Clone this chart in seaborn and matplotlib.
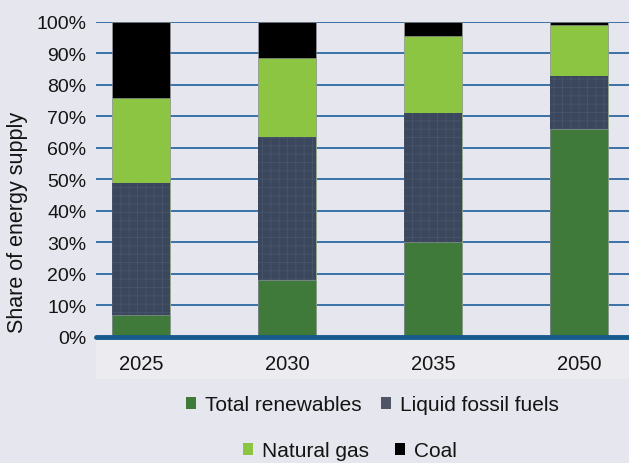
import matplotlib
matplotlib.use("Agg")
import matplotlib.pyplot as plt
from matplotlib.patches import Patch, Rectangle
import numpy as np
import pandas as pd
import seaborn as sns

years = ["2025", "2030", "2035", "2050"]
renewables = [7, 18, 30, 66]
liquid_fossil = [42, 45.5, 41, 17]
natural_gas = [27, 25, 24.5, 16]
coal = [24, 11.5, 4.5, 1]
y_ticks = [0, 10, 20, 30, 40, 50, 60, 70, 80, 90, 100]
y_tick_labels = [f"{v}%" for v in y_ticks]

series_names = ["Total renewables", "Liquid fossil fuels", "Natural gas", "Coal"]
series_colors = ["#3f7a3a", "#3a475c", "#8cc541", "#000000"]

sns.set_theme(style="white")
plt.rcParams["font.family"] = ["Liberation Sans", "DejaVu Sans"]
plt.rcParams["hatch.linewidth"] = 0.7

BG = "#e5e6ee"
GRID = "#2c68a0"
TXT = "#141414"

fig = plt.figure(figsize=(6.29, 4.64), dpi=100, facecolor=BG)
ax = fig.add_axes([0.1526, 0.2716, 0.8474, 0.6789])
ax.set_facecolor(BG)

# lighter band under the category axis
fig.patches.append(Rectangle((0.1526, 1 - 380 / 464), 0.8474, (380 - 338) / 464,
                             transform=fig.transFigure, facecolor="#ececf0",
                             edgecolor="none", zorder=-5))

df = pd.DataFrame({
    "year": years,
    "ren": renewables,
    "liq": liquid_fossil,
    "gas": natural_gas,
    "coal": coal,
})
# cumulative tops, drawn from the tallest layer down
tops = {
    "coal": df["ren"] + df["liq"] + df["gas"] + df["coal"],
    "gas": df["ren"] + df["liq"] + df["gas"],
    "liq": df["ren"] + df["liq"],
    "ren": df["ren"],
}
layer_colors = {"coal": series_colors[3], "gas": series_colors[2],
                "liq": series_colors[1], "ren": series_colors[0]}

for key in ["coal", "gas", "liq", "ren"]:
    sns.barplot(x=df["year"], y=tops[key], color=layer_colors[key], width=0.40,
                saturation=1, ax=ax, edgecolor="#a0a2aa", linewidth=0.4, zorder=3)

# dotted texture on the liquid fossil fuels layer
for patch in ax.containers[2]:
    patch.set_hatch("++")
    patch.set_edgecolor("#46536a")
    patch.set_linewidth(0.0)

for v in y_ticks[1:]:
    ax.axhline(v, color=GRID, linewidth=1.3, zorder=1)
ax.axhline(0, color="#175a8c", linewidth=3.5, zorder=5, clip_on=False)

ax.set_xlim(-0.308, 3.342)
ax.set_ylim(0, 100)
ax.set_yticks(y_ticks)
ax.set_yticklabels(y_tick_labels, fontsize=14, color=TXT)
ax.tick_params(axis="y", length=0, pad=7)
ax.tick_params(axis="x", length=0, pad=12, labelsize=14.5, labelcolor=TXT)
ax.set_xlabel("")
ax.set_ylabel("Share of energy supply", fontsize=15.5, color=TXT)
ax.yaxis.set_label_coords(-0.128, 0.368)
for s in ax.spines.values():
    s.set_visible(False)

handles = [Patch(facecolor=c, edgecolor="none") for c in series_colors]
handles[1] = Patch(facecolor="#505565", edgecolor="none")
leg_kw = dict(frameon=False, fontsize=15, handlelength=0.48, handleheight=0.48,
              handletextpad=0.45, labelcolor=TXT, borderpad=0, borderaxespad=0)
fig.legend(handles[:2], series_names[:2], ncol=2, loc="center",
           bbox_to_anchor=(372.5 / 629, 1 - 406 / 464), columnspacing=0.9, **leg_kw)
fig.legend(handles[2:], series_names[2:], ncol=2, loc="center",
           bbox_to_anchor=(350 / 629, 1 - 452 / 464), columnspacing=1.25, **leg_kw)

fig.savefig("out.png", dpi=100, facecolor=BG)
